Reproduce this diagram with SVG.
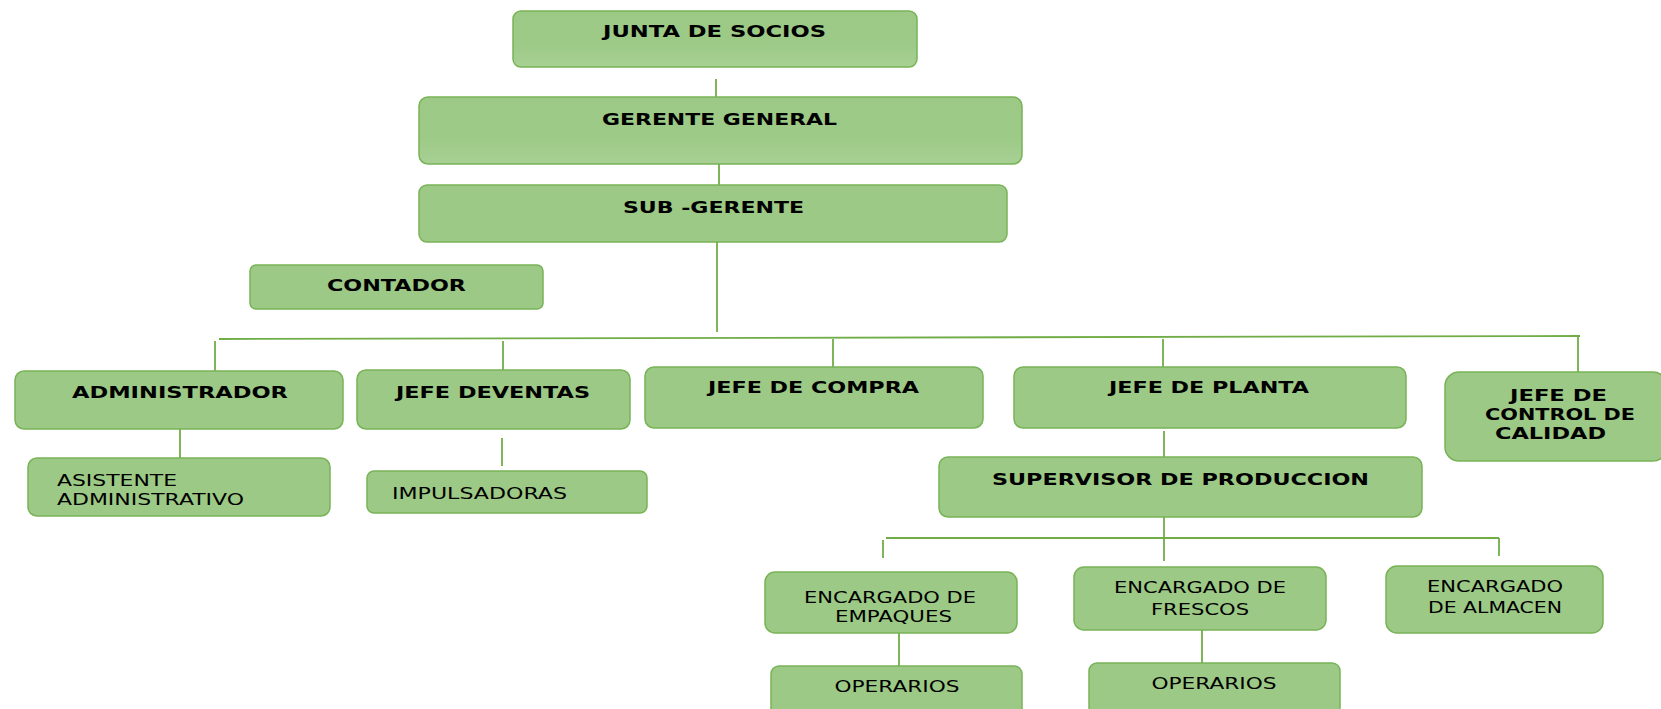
<svg xmlns="http://www.w3.org/2000/svg" width="1661" height="709" viewBox="0 0 1661 709">
<style>
.n{fill:#9cc985;stroke:#78b357;stroke-width:1.5}
.g{fill:url(#gr);stroke:#78b357;stroke-width:1.5}
.c{stroke:#70ad47;stroke-width:1.8;fill:none}
.b{font-family:"DejaVu Sans",Verdana,sans-serif;font-weight:bold;font-size:16px;fill:#000;text-anchor:middle}
.r{font-family:"DejaVu Sans",Verdana,sans-serif;font-size:16px;fill:#000}
.m{text-anchor:middle}
</style>
<defs>
<linearGradient id="gr" x1="0" y1="0" x2="0" y2="1">
<stop offset="0" stop-color="#9cc985"/>
<stop offset="0.6" stop-color="#9dca87"/>
<stop offset="1" stop-color="#a8d094"/>
</linearGradient>
</defs>
<rect width="1661" height="709" fill="#fff"/>
<g id="connectors">
<line class="c" x1="716" y1="79" x2="716" y2="97"/>
<line class="c" x1="719" y1="159" x2="719" y2="185"/>
<line class="c" x1="717" y1="242" x2="717" y2="332"/>
<line class="c" x1="219" y1="339" x2="1580" y2="336"/>
<line class="c" x1="215" y1="341" x2="215" y2="371"/>
<line class="c" x1="503" y1="341" x2="503" y2="370"/>
<line class="c" x1="833" y1="339" x2="833" y2="367"/>
<line class="c" x1="1163" y1="339" x2="1163" y2="367"/>
<line class="c" x1="1578" y1="336" x2="1578" y2="372"/>
<line class="c" x1="180" y1="429" x2="180" y2="458"/>
<line class="c" x1="502" y1="438" x2="502" y2="466"/>
<line class="c" x1="1164" y1="431" x2="1164" y2="457"/>
<line class="c" x1="1164" y1="517" x2="1164" y2="561"/>
<line class="c" x1="886" y1="538" x2="1499" y2="538"/>
<line class="c" x1="883" y1="540" x2="883" y2="558"/>
<line class="c" x1="1499" y1="538" x2="1499" y2="556"/>
<line class="c" x1="899" y1="633" x2="899" y2="666"/>
<line class="c" x1="1202" y1="630" x2="1202" y2="663"/>
</g>
<g id="junta"><rect class="g" x="513" y="11" width="404" height="56" rx="8"/><text class="b" x="714.5" y="37" textLength="223" lengthAdjust="spacingAndGlyphs">JUNTA DE SOCIOS</text></g>
<g id="gerente"><rect class="g" x="419" y="97" width="603" height="67" rx="9"/><text class="b" x="719.5" y="125" textLength="235" lengthAdjust="spacingAndGlyphs">GERENTE GENERAL</text></g>
<g id="subgerente"><rect class="n" x="419" y="185" width="588" height="57" rx="8"/><text class="b" x="713.5" y="213" textLength="181" lengthAdjust="spacingAndGlyphs">SUB -GERENTE</text></g>
<g id="contador"><rect class="n" x="250" y="265" width="293" height="44" rx="6"/><text class="b" x="396.5" y="291" textLength="139" lengthAdjust="spacingAndGlyphs">CONTADOR</text></g>
<g id="administrador"><rect class="n" x="15" y="371" width="328" height="58" rx="9"/><text class="b" x="180" y="398" textLength="216" lengthAdjust="spacingAndGlyphs">ADMINISTRADOR</text></g>
<g id="jefeventas"><rect class="n" x="357" y="370" width="273" height="59" rx="9"/><text class="b" x="493" y="398" textLength="194" lengthAdjust="spacingAndGlyphs">JEFE DEVENTAS</text></g>
<g id="jefecompra"><rect class="n" x="645" y="367" width="338" height="61" rx="9"/><text class="b" x="813.5" y="393" textLength="211" lengthAdjust="spacingAndGlyphs">JEFE DE COMPRA</text></g>
<g id="jefeplanta"><rect class="n" x="1014" y="367" width="392" height="61" rx="9"/><text class="b" x="1209" y="393" textLength="200" lengthAdjust="spacingAndGlyphs">JEFE DE PLANTA</text></g>
<g id="jefecalidad"><rect class="n" x="1445" y="372" width="222" height="89" rx="14"/><text class="b" x="1558.5" y="401" textLength="97" lengthAdjust="spacingAndGlyphs">JEFE DE</text><text class="b" x="1560" y="420" textLength="150" lengthAdjust="spacingAndGlyphs">CONTROL DE</text><text class="b" x="1550.5" y="439" textLength="111" lengthAdjust="spacingAndGlyphs">CALIDAD</text></g>
<g id="asistente"><rect class="n" x="28" y="458" width="302" height="58" rx="9"/><text class="r" x="57" y="486" textLength="120" lengthAdjust="spacingAndGlyphs">ASISTENTE</text><text class="r" x="57" y="504.5" textLength="187" lengthAdjust="spacingAndGlyphs">ADMINISTRATIVO</text></g>
<g id="impulsadoras"><rect class="n" x="367" y="471" width="280" height="42" rx="7"/><text class="r" x="392" y="498.5" textLength="175" lengthAdjust="spacingAndGlyphs">IMPULSADORAS</text></g>
<g id="supervisor"><rect class="n" x="939" y="457" width="483" height="60" rx="9"/><text class="b" x="1180.5" y="485" textLength="377" lengthAdjust="spacingAndGlyphs">SUPERVISOR DE PRODUCCION</text></g>
<g id="empaques"><rect class="n" x="765" y="572" width="252" height="61" rx="10"/><text class="r m" x="890" y="603" textLength="172" lengthAdjust="spacingAndGlyphs">ENCARGADO DE</text><text class="r m" x="893.5" y="622" textLength="117" lengthAdjust="spacingAndGlyphs">EMPAQUES</text></g>
<g id="frescos"><rect class="n" x="1074" y="567" width="252" height="63" rx="10"/><text class="r m" x="1200" y="593" textLength="172" lengthAdjust="spacingAndGlyphs">ENCARGADO DE</text><text class="r m" x="1200" y="615" textLength="98" lengthAdjust="spacingAndGlyphs">FRESCOS</text></g>
<g id="almacen"><rect class="n" x="1386" y="566" width="217" height="67" rx="11"/><text class="r m" x="1495" y="592" textLength="136" lengthAdjust="spacingAndGlyphs">ENCARGADO</text><text class="r m" x="1495" y="613" textLength="134" lengthAdjust="spacingAndGlyphs">DE ALMACEN</text></g>
<g id="operarios1"><rect class="n" x="771" y="666" width="251" height="52" rx="8"/><text class="r m" x="897" y="692" textLength="125" lengthAdjust="spacingAndGlyphs">OPERARIOS</text></g>
<g id="operarios2"><rect class="n" x="1089" y="663" width="251" height="52" rx="8"/><text class="r m" x="1214" y="689" textLength="125" lengthAdjust="spacingAndGlyphs">OPERARIOS</text></g>
</svg>
